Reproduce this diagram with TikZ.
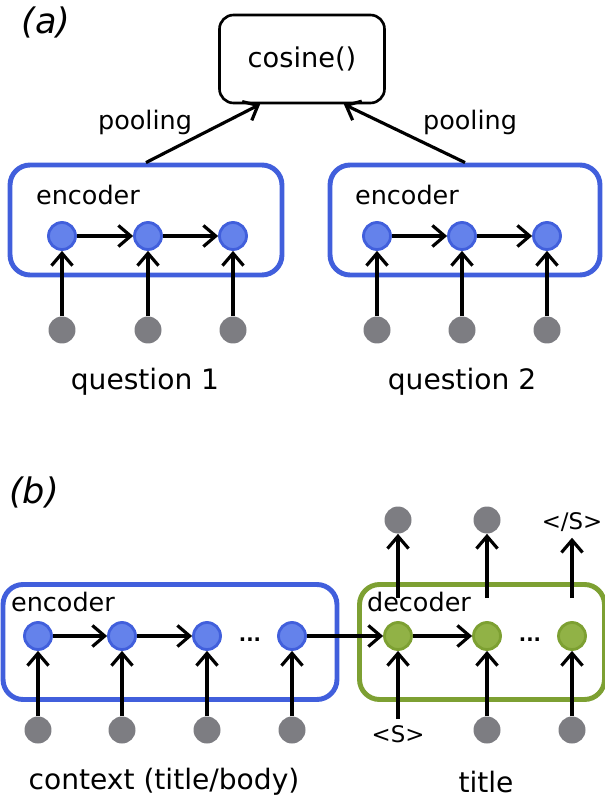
\documentclass[tikz,border=0pt]{standalone}
\usepackage{fontspec}
\setmainfont{DejaVu Sans}
\usetikzlibrary{arrows.meta,calc}
\definecolor{encblue}{RGB}{65,95,220}
\definecolor{encfill}{RGB}{100,130,235}
\definecolor{decgreen}{RGB}{125,160,50}
\definecolor{decfill}{RGB}{145,178,70}
\definecolor{tokgray}{RGB}{125,125,130}
\tikzset{
  enc/.style={circle,draw=encblue,fill=encfill,line width=1.6pt,minimum size=0.54cm,inner sep=0pt},
  dec/.style={circle,draw=decgreen,fill=decfill,line width=1.6pt,minimum size=0.54cm,inner sep=0pt},
  tok/.style={circle,fill=tokgray,minimum size=0.54cm,inner sep=0pt},
  encbox/.style={draw=encblue,line width=2.8pt,rounded corners=0.4cm,inner sep=0pt},
  decbox/.style={draw=decgreen,line width=2.8pt,rounded corners=0.4cm,inner sep=0pt},
  lab/.style={font=\fontsize{14.5}{17}\selectfont},
  big/.style={font=\fontsize{16}{19}\selectfont},
  tag/.style={font=\itshape\fontsize{20}{24}\selectfont},
  sym/.style={font=\fontsize{13}{15}\selectfont},
  dots/.style={font=\bfseries\fontsize{11}{13}\selectfont},
  conn/.style={-{Straight Barb[length=7pt,width=12pt,line width=1.8pt]},line width=1.8pt}
}
\begin{document}
\begin{tikzpicture}[x=0.02cm,y=-0.02cm]
\useasboundingbox (0,0) rectangle (604,803);
% (a)
\node[tag] (taga) at (46,22) {(a)};
\node[draw,line width=1.5pt,rounded corners=0.28cm,minimum width=3.3cm,minimum height=1.76cm,font=\fontsize{15.5}{18}\selectfont] (cos) at (302,59) {cosine()};

\node[encbox,minimum width=5.44cm,minimum height=2.2cm] (boxa) at (146,220) {};
\node[encbox,minimum width=5.4cm,minimum height=2.2cm] (boxb) at (465,220) {};
\node[lab] (encta) at (88,195) {encoder};
\node[lab] (enctb) at (407,195) {encoder};

\foreach \i/\x in {1/62,2/148,3/233}
{
  \node[enc] (qa\i) at (\x,236) {};
  \node[tok] (wa\i) at (\x,330) {};
  \draw[conn] (wa\i) -- (qa\i);
}
\foreach \i/\x in {1/377,2/462,3/547}
{
  \node[enc] (qb\i) at (\x,236) {};
  \node[tok] (wb\i) at (\x,330) {};
  \draw[conn] (wb\i) -- (qb\i);
}
\draw[conn] (qa1) -- (qa2);
\draw[conn] (qa2) -- (qa3);
\draw[conn] (qb1) -- (qb2);
\draw[conn] (qb2) -- (qb3);

\draw[conn] (boxa.north) -- ($(cos.south)!0.5!(cos.south west)$);
\draw[conn] (boxb.north) -- ($(cos.south)!0.5!(cos.south east)$);
\node[lab] (poola) at (145,122) {pooling};
\node[lab] (poolb) at (470,122) {pooling};

\node[big] (qla) at (145,382) {question 1};
\node[big] (qlb) at (462,382) {question 2};

% (b)
\node[tag] (tagb) at (34,492) {(b)};
\node[encbox,minimum width=6.68cm,minimum height=2.3cm] (ebox) at (170,642) {};
\node[decbox,minimum width=4.9cm,minimum height=2.3cm] (dbox) at (482,642) {};
\node[lab] (enctc) at (63,602) {encoder};
\node[lab] (dect) at (419,602) {decoder};

\foreach \i/\x in {1/38,2/122,3/207,4/292}
{
  \node[enc] (c\i) at (\x,636) {};
  \node[tok] (x\i) at (\x,730) {};
  \draw[conn] (x\i) -- (c\i);
}
\node[dots] (edots) at (250,640) {...};
\draw[conn] (c1) -- (c2);
\draw[conn] (c2) -- (c3);

\foreach \i/\x in {1/398,2/487,3/572}
{
  \node[dec] (d\i) at (\x,636) {};
  \coordinate (o\i) at (\x,598);
}
\node[sym] (sos) at (398,734) {<S>};
\node[tok] (y2) at (487,730) {};
\node[tok] (y3) at (572,730) {};
\draw[conn] (sos) -- (d1);
\draw[conn] (y2) -- (d2);
\draw[conn] (y3) -- (d3);
\node[dots] (ddots) at (530,640) {...};
\draw[conn] (c4) -- (d1);
\draw[conn] (d1) -- (d2);

\node[tok] (p1) at (398,520) {};
\node[tok] (p2) at (487,520) {};
\node[sym] (eos) at (572,522) {</S>};
\draw[conn] (o1) -- (p1);
\draw[conn] (o2) -- (p2);
\draw[conn] (o3) -- (eos);

\node[big] (ctxt) at (164,782) {context (title/body)};
\node[big] (tt) at (486,782) {title};
\end{tikzpicture}
\end{document}
